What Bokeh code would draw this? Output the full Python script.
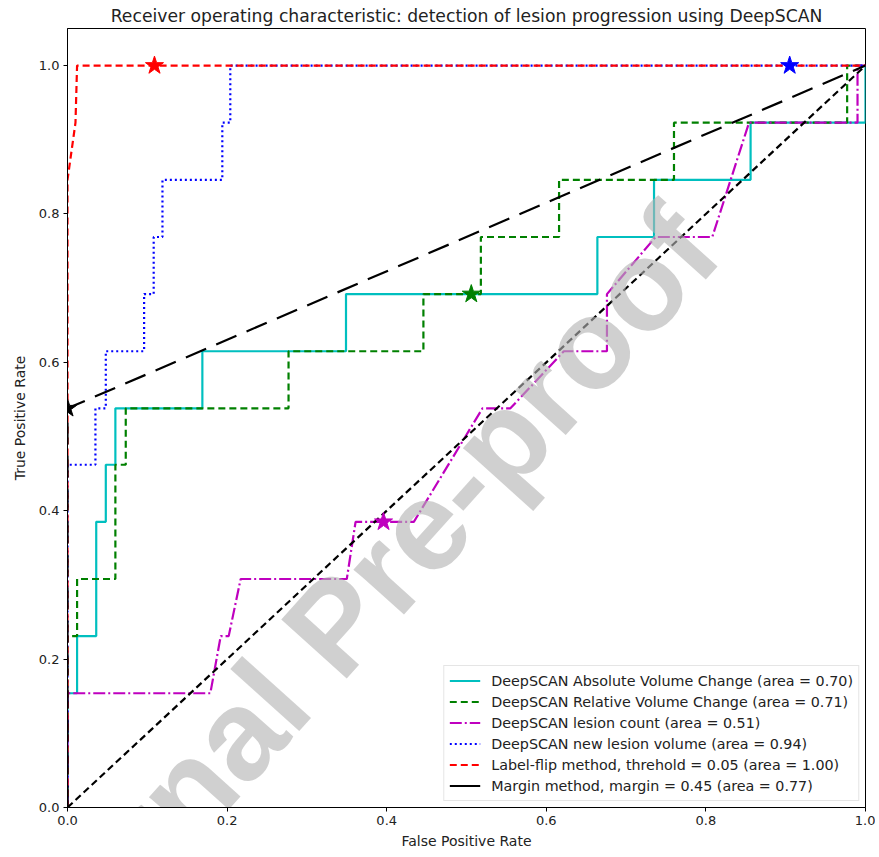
from bokeh.plotting import figure
from bokeh.models import Range1d, FixedTicker, PrintfTickFormatter, Legend, LegendItem, Label
from bokeh.embed import file_html
from bokeh.resources import INLINE

# ---- data ----
abs_fpr = [0, 0, 0.012, 0.012, 0.036, 0.036, 0.048, 0.048, 0.060, 0.060, 0.169, 0.169, 0.349, 0.349, 0.664, 0.664, 0.735, 0.735, 0.856, 0.856, 1.0, 1.0]
abs_tpr = [0, 0.154, 0.154, 0.231, 0.231, 0.385, 0.385, 0.462, 0.462, 0.538, 0.538, 0.615, 0.615, 0.692, 0.692, 0.769, 0.769, 0.846, 0.846, 0.923, 0.923, 1.0]

rel_fpr = [0, 0, 0.012, 0.012, 0.060, 0.060, 0.073, 0.073, 0.277, 0.277, 0.446, 0.446, 0.518, 0.518, 0.616, 0.616, 0.760, 0.760, 0.977, 0.977, 1.0]
rel_tpr = [0, 0.231, 0.231, 0.308, 0.308, 0.462, 0.462, 0.538, 0.538, 0.615, 0.615, 0.692, 0.692, 0.769, 0.769, 0.846, 0.846, 0.923, 0.923, 1.0, 1.0]

cnt_fpr = [0, 0, 0.179, 0.192, 0.202, 0.217, 0.350, 0.361, 0.434, 0.520, 0.555, 0.622, 0.676, 0.676, 0.737, 0.808, 0.854, 0.990, 0.990, 1.0]
cnt_tpr = [0, 0.154, 0.154, 0.231, 0.231, 0.308, 0.308, 0.385, 0.385, 0.538, 0.538, 0.615, 0.615, 0.692, 0.769, 0.769, 0.923, 0.923, 1.0, 1.0]

new_fpr = [0, 0, 0.035, 0.035, 0.048, 0.048, 0.096, 0.096, 0.108, 0.108, 0.119, 0.119, 0.194, 0.194, 0.204, 0.204, 1.0]
new_tpr = [0, 0.462, 0.462, 0.538, 0.538, 0.615, 0.615, 0.692, 0.692, 0.769, 0.769, 0.846, 0.846, 0.923, 0.923, 1.0, 1.0]

flip_fpr = [0, 0, 0.010, 0.012, 1.0]
flip_tpr = [0, 0.846, 0.923, 1.0, 1.0]

margin_fpr = [0, 0, 1.0]
margin_tpr = [0, 0.538, 1.0]

chance_fpr = [0, 1]
chance_tpr = [0, 1]

star_fpr = [0.109, 0.905, 0.506, 0.396, 0.0]
star_tpr = [1.0, 1.0, 0.692, 0.385, 0.538]
star_color = ["#ff0000", "#0000ff", "#008000", "#bf00bf", "#000000"]

labels = [
    "DeepSCAN Absolute Volume Change (area = 0.70)",
    "DeepSCAN Relative Volume Change (area = 0.71)",
    "DeepSCAN lesion count (area = 0.51)",
    "DeepSCAN new lesion volume (area = 0.94)",
    "Label-flip method, threhold = 0.05 (area = 1.00)",
    "Margin method, margin = 0.45 (area = 0.77)",
]
ticks = [0.0, 0.2, 0.4, 0.6, 0.8, 1.0]
watermark = "Journal Pre-proof"

FONT = "DejaVu Sans"

p = figure(width=875, height=856, output_backend="svg", toolbar_location=None,
           x_range=Range1d(0, 1), y_range=Range1d(0, 1.05),
           min_border_left=67, min_border_right=10, min_border_bottom=49, min_border_top=0,
           title="Receiver operating characteristic: detection of lesion progression using DeepSCAN")
p.title.text_font = FONT
p.title.text_font_size = "17.2px"
p.title.text_font_style = "normal"
p.title.text_color = "#222222"
p.title.align = "center"
p.title.offset = 0
p.title.standoff = 6

p.xgrid.visible = False
p.ygrid.visible = False
p.outline_line_color = "black"
p.outline_line_width = 1
p.background_fill_color = "white"
p.border_fill_color = "white"

for ax in (p.xaxis[0], p.yaxis[0]):
    ax.ticker = FixedTicker(ticks=ticks)
    ax.formatter = PrintfTickFormatter(format="%.1f")
    ax.major_label_text_font = FONT
    ax.major_label_text_font_size = "13px"
    ax.major_label_text_color = "#222222"
    ax.axis_label_text_font = FONT
    ax.axis_label_text_font_size = "14px"
    ax.axis_label_text_font_style = "normal"
    ax.axis_label_text_color = "#222222"
    ax.minor_tick_line_color = None
    ax.major_tick_out = 4
    ax.major_tick_in = 0
    ax.axis_line_color = "black"
    ax.major_tick_line_color = "black"
    ax.major_label_standoff = 4
p.xaxis.axis_label = "False Positive Rate"
p.yaxis.axis_label = "True Positive Rate"
p.xaxis.axis_label_standoff = 5
p.yaxis.axis_label_standoff = 8

lw = 2.2
r1 = p.line(abs_fpr, abs_tpr, line_color="#00bfbf", line_width=lw)
r2 = p.line(rel_fpr, rel_tpr, line_color="#008000", line_width=lw, line_dash="7 4")
r3 = p.line(cnt_fpr, cnt_tpr, line_color="#bf00bf", line_width=lw, line_dash="12 3 2 3")
r4 = p.line(new_fpr, new_tpr, line_color="#0000ff", line_width=lw, line_dash="2 3")
r5 = p.line(flip_fpr, flip_tpr, line_color="#ff0000", line_width=lw, line_dash="7 4")
p.line(margin_fpr, margin_tpr, line_color="black", line_width=lw, line_dash="22 11")
# legend proxy for the margin method (solid black in the legend); a single point draws nothing
r6 = p.line(x=margin_fpr[:1], y=margin_tpr[:1], line_color="black", line_width=lw)
p.line(chance_fpr, chance_tpr, line_color="black", line_width=lw, line_dash="7 4")

p.scatter(x=star_fpr, y=star_tpr, marker="star", size=19, fill_color=star_color, line_color=star_color)

legend = Legend(items=[LegendItem(label=l, renderers=[r]) for l, r in zip(labels, [r1, r2, r3, r4, r5, r6])],
                location="bottom_right")
legend.label_text_font = FONT
legend.label_text_font_size = "14.3px"
legend.label_text_color = "#222222"
legend.glyph_width = 31
legend.glyph_height = 19
legend.label_height = 19
legend.spacing = 2
legend.padding = 5
legend.margin = 6
legend.label_standoff = 11
legend.border_line_color = "#cccccc"
legend.border_line_width = 1
legend.background_fill_alpha = 0.8
p.add_layout(legend, "center")

wm_kwargs = dict(x=0.335, y=0.244, text=watermark, angle=48, angle_units="deg",
                 text_align="center", text_baseline="middle", text_font="Liberation Sans",
                 text_font_size="128px", text_font_style="bold", text_color="#b3b3b3", text_alpha=0.62)
try:
    from bokeh.models import HTMLLabel
    wm = HTMLLabel(**wm_kwargs)
except Exception:
    wm = Label(**wm_kwargs)
p.add_layout(wm)

open("out.html", "w").write(file_html(p, INLINE))
